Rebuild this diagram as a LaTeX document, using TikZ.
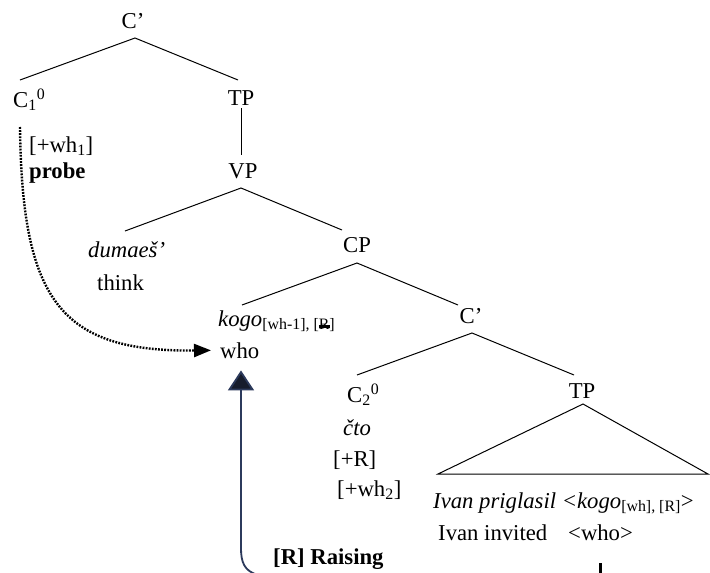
\documentclass[tikz,border=0pt]{standalone}
\usepackage{fontspec}
\setmainfont{Liberation Serif}
\usetikzlibrary{arrows.meta}
\definecolor{raisenavy}{RGB}{44,58,92}
\definecolor{tipnavy}{RGB}{22,28,44}
% a struck-out R for the deleted feature
\newcommand\crossedR{\makebox[0pt][l]{\rule[0.22ex]{0.7em}{0.45ex}}R}

\begin{document}
\begin{tikzpicture}[x=1pt,y=-1pt,
  lbl/.style={inner sep=0pt, font=\fontsize{22.7}{27}\selectfont},
  boldlbl/.style={lbl, font=\fontsize{22.7}{27}\selectfont\bfseries},
  branch/.style={line width=1pt},
  probeline/.style={line width=2.4pt, dash pattern=on 1.8pt off 1.3pt,
    -{Triangle[width=13pt,length=17pt]}},
  raiseline/.style={draw=raisenavy, line width=1.8pt,
    -{Triangle[width=26pt,length=20pt,fill=tipnavy]}}]
\useasboundingbox (0,0) rectangle (710,573);

% ---- labels ----
\node[lbl,anchor=base] (cbarA) at (133,28) {C’};
\node[lbl,anchor=base west] (cA) at (13,107) {C\textsubscript{1}\textsuperscript{0}};
\node[lbl,anchor=base] (tpA) at (241,105) {TP};
\node[lbl,anchor=base west] (whA) at (29,152) {[+wh\textsubscript{1}]};
\node[boldlbl,anchor=base west] (probe) at (29,178) {probe};
\node[lbl,anchor=base] (vp) at (243,178) {VP};
\node[lbl,anchor=base west] (dum) at (88,257) {\textit{dumaeš’}};
\node[lbl,anchor=base west] (think) at (97,290) {think};
\node[lbl,anchor=base] (cp) at (357,252) {CP};
\node[lbl,anchor=base west] (kogo) at (218,326) {\textit{kogo}\textsubscript{[wh-1], [\crossedR]}};
\node[lbl,anchor=base west] (who) at (220,358) {who};
\node[lbl,anchor=base] (cbarB) at (471,323) {C’};
\node[lbl,anchor=base west] (cB) at (347,402) {C\textsubscript{2}\textsuperscript{0}};
\node[lbl,anchor=base west] (cto) at (343,435) {\textit{čto}};
\node[lbl,anchor=base west] (plusR) at (333,466) {[+R]};
\node[lbl,anchor=base west] (whB) at (337,496) {[+wh\textsubscript{2}]};
\node[boldlbl,anchor=base west] (raise) at (273,564) {[R] Raising};
\node[lbl,anchor=base] (tpB) at (582,398) {TP};
\node[lbl,anchor=base west] (ivan) at (433,508) {\textit{Ivan priglasil <kogo}\textsubscript{[wh], [R]}>};
\node[lbl,anchor=base west] (ivanE) at (438,540) {Ivan invited};
\node[lbl,anchor=base west] (whoE) at (568,540) {<who>};

% ---- branch points ----
\coordinate (apexA) at (135,38);
\coordinate (endCA) at (20,80);
\coordinate (endTPA) at (238,80);
\coordinate (tpAfoot) at (241,108);
\coordinate (vpHead) at (241,155);
\coordinate (apexVP) at (241,188);
\coordinate (endDum) at (125,231);
\coordinate (endCP) at (342,230);
\coordinate (apexCP) at (357,263);
\coordinate (endKogo) at (242,305);
\coordinate (endCbarB) at (458,305);
\coordinate (apexCbarB) at (472,333);
\coordinate (endCB) at (357,375);
\coordinate (endTPB) at (574,375);
\coordinate (triApex) at (583,404);
\coordinate (triLeft) at (438,474);
\coordinate (triRight) at (708,474);

% ---- tree branches ----
\draw[branch] (endCA) -- (apexA) -- (endTPA);
\draw[branch] (tpAfoot) -- (vpHead);
\draw[branch] (endDum) -- (apexVP) -- (endCP);
\draw[branch] (endKogo) -- (apexCP) -- (endCbarB);
\draw[branch] (endCB) -- (apexCbarB) -- (endTPB);
\draw[branch] (triLeft) -- (triApex) -- (triRight) -- cycle;

% ---- probe (dotted) ----
\coordinate (probeStart) at (20,127);
\draw[probeline, shorten >=9pt] (probeStart) .. controls (22,300) and (60,352) .. (who.west);

% ---- raising arrow ----
\coordinate (raiseFoot) at (258,575);
\coordinate (raiseBend) at (241,548);
\draw[raiseline, shorten >=12pt] (raiseFoot) .. controls (244,571) and (241,562) .. (raiseBend)
  -- (raiseBend |- who.south);

% ---- trace mark under <who> ----
\draw[line width=2.2pt] ([yshift=-23pt]whoE.south) -- ++(0,12);
\end{tikzpicture}
\end{document}
